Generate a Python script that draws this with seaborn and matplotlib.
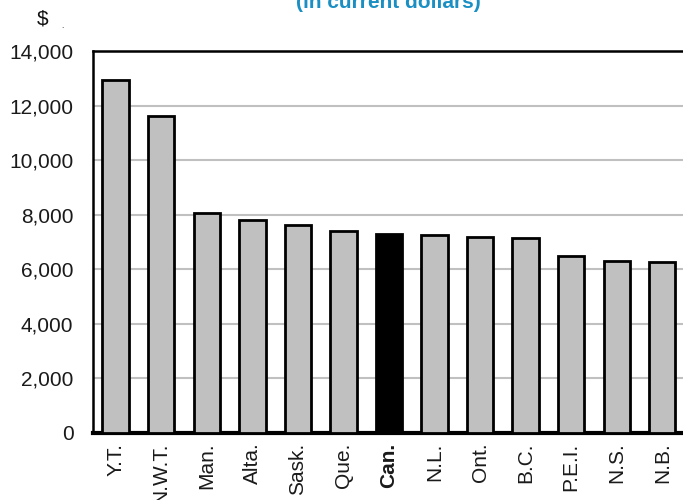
import matplotlib
matplotlib.use("Agg")
import matplotlib.pyplot as plt
import seaborn as sns
import pandas as pd
from matplotlib.ticker import FuncFormatter
from matplotlib import font_manager

regions = ["Y.T.", "N.W.T.", "Man.", "Alta.", "Sask.", "Que.", "Can.", "N.L.", "Ont.", "B.C.", "P.E.I.", "N.S.", "N.B."]
values = [12940, 11620, 8070, 7790, 7630, 7420, 7280, 7250, 7200, 7140, 6480, 6320, 6250]
yticks = [0, 2000, 4000, 6000, 8000, 10000, 12000, 14000]

sns.set_theme(style="white")
plt.rcParams['font.family'] = ['Liberation Sans', 'DejaVu Sans']

names = {f.name for f in font_manager.fontManager.ttflist}
title_family = 'Liberation Sans Narrow' if 'Liberation Sans Narrow' in names else 'Liberation Sans'

df = pd.DataFrame({"region": regions, "value": values})
palette = {r: ("#000000" if r == "Can." else "#c0c0c0") for r in regions}

fig = plt.figure(figsize=(6.83, 5.0), dpi=100)
ax = fig.add_axes([0.136, 0.134, 0.867, 0.764])
sns.barplot(data=df, x="region", y="value", hue="region", palette=palette,
            legend=False, width=0.58, edgecolor="black", linewidth=2.0,
            saturation=1, ax=ax, zorder=3)
ax.set_xlim(-0.5, 12.5)
ax.set_ylim(0, 14000)
ax.set_yticks(yticks)
ax.yaxis.set_major_formatter(FuncFormatter(lambda v, p: f"{int(v):,}"))
ax.grid(axis="y", color="#c0c0c0", linewidth=1.5, zorder=0)
ax.set_axisbelow(True)
ax.set_xlabel("")
ax.set_ylabel("")
for s in ["left", "top", "right"]:
    ax.spines[s].set_color("black")
    ax.spines[s].set_linewidth(1.8)
ax.spines["bottom"].set_color("black")
ax.spines["bottom"].set_linewidth(3)
ax.tick_params(axis="y", length=0, pad=14, labelsize=15, labelcolor="#1a1a1a")
ax.tick_params(axis="x", length=0, pad=7, labelsize=15, labelrotation=90, labelcolor="#1a1a1a")
for lab in ax.get_xticklabels():
    lab.set_va("top")
    lab.set_ha("center")
    if lab.get_text() == "Can.":
        lab.set_fontweight("bold")

fig.text(0.569, 0.995, "(in current dollars)", ha="center", va="center",
         color="#1a8fc4", fontsize=15, fontweight="bold", family=title_family)
fig.text(0.063, 0.962, "$", ha="center", va="center", fontsize=15, color="#111111")
fig.text(0.092, 0.946, ".", ha="center", va="center", fontsize=6, color="#111111")

fig.savefig("out.png", dpi=100)
